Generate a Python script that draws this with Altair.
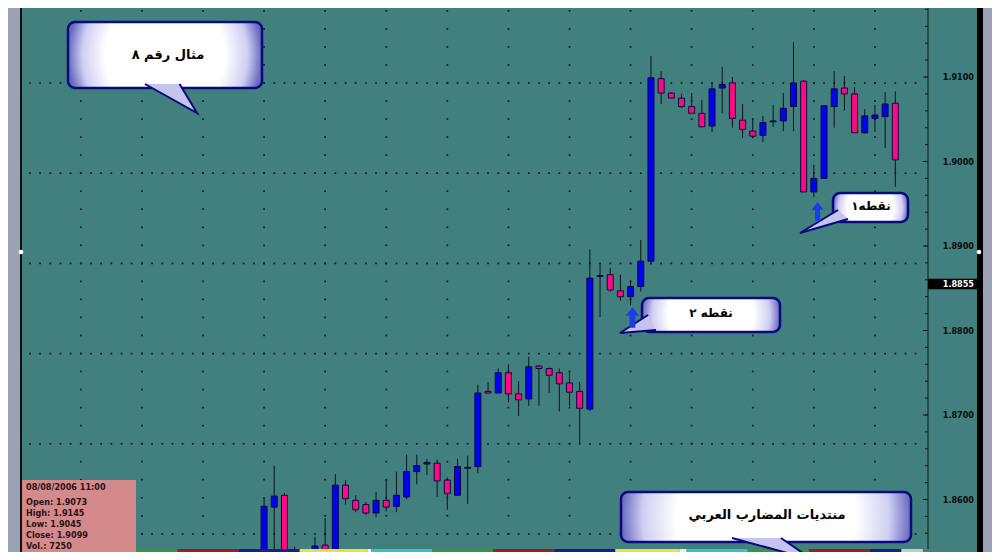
import altair as alt
import pandas as pd
import numpy as np

# ---------------- data ----------------
candle_index = list(range(63))
open_ = [1.8530, 1.8591, 1.8605, 1.8535, 1.8528, 1.8530, 1.8546, 1.8532, 1.8617, 1.8599,
         1.8594, 1.8584, 1.8599, 1.8592, 1.8603, 1.8633, 1.8642, 1.8643, 1.8623, 1.8605,
         1.8637, 1.8639, 1.8728, 1.8726, 1.8750, 1.8725, 1.8719, 1.8758, 1.8755, 1.8750,
         1.8738, 1.8728, 1.8707, 1.8864, 1.8866, 1.8847, 1.8840, 1.8852, 1.8882, 1.9098,
         1.9081, 1.9075, 1.9065, 1.9057, 1.9042, 1.9087, 1.9093, 1.9049, 1.9036, 1.9031,
         1.9047, 1.9048, 1.9065, 1.9095, 1.8964, 1.8980, 1.9065, 1.9087, 1.9080, 1.9034,
         1.9051, 1.9053, 1.9069]
close = [1.8592, 1.8604, 1.8535, 1.8530, 1.8532, 1.8545, 1.8535, 1.8617, 1.8601, 1.8588,
         1.8584, 1.8599, 1.8591, 1.8605, 1.8633, 1.8640, 1.8644, 1.8622, 1.8607, 1.8639,
         1.8638, 1.8726, 1.8726, 1.8750, 1.8725, 1.8718, 1.8757, 1.8755, 1.8747, 1.8737,
         1.8727, 1.8708, 1.8862, 1.8865, 1.8848, 1.8840, 1.8852, 1.8882, 1.9099, 1.9081,
         1.9075, 1.9065, 1.9057, 1.9041, 1.9086, 1.9091, 1.9051, 1.9038, 1.9030, 1.9046,
         1.9048, 1.9063, 1.9093, 1.8964, 1.8980, 1.9066, 1.9086, 1.9080, 1.9034, 1.9054,
         1.9055, 1.9068, 1.9002]
high = [1.8601, 1.8640, 1.8608, 1.8544, 1.8538, 1.8556, 1.8578, 1.8630, 1.8623, 1.8605,
        1.8597, 1.8609, 1.8623, 1.8633, 1.8653, 1.8653, 1.8648, 1.8647, 1.8626, 1.8648,
        1.8652, 1.8736, 1.8739, 1.8755, 1.8760, 1.8740, 1.8769, 1.8759, 1.8756, 1.8755,
        1.8751, 1.8739, 1.8896, 1.8879, 1.8874, 1.8866, 1.8859, 1.8907, 1.9125, 1.9107,
        1.9082, 1.9080, 1.9081, 1.9073, 1.9094, 1.9112, 1.9100, 1.9068, 1.9051, 1.9054,
        1.9067, 1.9081, 1.9141, 1.9096, 1.8996, 1.9066, 1.9107, 1.9101, 1.9088, 1.9062,
        1.9067, 1.9082, 1.9083]
low = [1.8520, 1.8525, 1.8528, 1.8520, 1.8520, 1.8525, 1.8528, 1.8528, 1.8594, 1.8585,
       1.8582, 1.8579, 1.8586, 1.8585, 1.8600, 1.8618, 1.8629, 1.8603, 1.8588, 1.8605,
       1.8595, 1.8631, 1.8726, 1.8726, 1.8715, 1.8699, 1.8711, 1.8711, 1.8726, 1.8704,
       1.8711, 1.8667, 1.8705, 1.8816, 1.8846, 1.8835, 1.8830, 1.8846, 1.8878, 1.9068,
       1.9075, 1.9063, 1.9056, 1.9041, 1.9035, 1.9057, 1.9040, 1.9028, 1.9028, 1.9023,
       1.9041, 1.9036, 1.9036, 1.8964, 1.8958, 1.8980, 1.9040, 1.9060, 1.9034, 1.9033,
       1.9035, 1.9016, 1.8970]

y_ticks = [1.86, 1.87, 1.88, 1.89, 1.90, 1.91]
y_tick_labels = ["1.8600", "1.8700", "1.8800", "1.8900", "1.9000", "1.9100"]
current_price = 1.8855
current_label = "1.8855"

grid_rows = [1.90929, 1.89862, 1.88794, 1.87727, 1.86659, 1.85592]
grid_cols = [-18, -12, -6, 0, 6, 12, 18, 24, 30, 36, 42, 48, 54, 60]

info_lines = ["08/08/2006 11:00", "Open: 1.9073", "High: 1.9145",
              "Low: 1.9045", "Close: 1.9099", "Vol.: 7250"]

callout_texts = ["مثال رقم ٨", "نقطه ٢", "نقطه١", "منتديات المضارب العربي"]

session_start = [-21.8, -20.5, -14.5, -8.5, -2.5, 3.5, 10.2, 10.5, 16.5, 22.5, 28.5, 34.5, 40.8, 41.5, 47.5, 53.5, 59.5, 62.6]
session_end = [-20.5, -14.5, -8.5, -2.5, 3.5, 10.2, 10.5, 16.5, 22.5, 28.5, 34.5, 40.8, 41.5, 47.5, 53.5, 59.5, 62.6, 64.7]
session_color = ["#f0f0f0", "#3cc0c8", "#2e9a36", "#9a1e1e", "#1c1c8c", "#e8e040", "#f0f0f0",
                 "#3cc0c8", "#2e9a36", "#9a1e1e", "#1c1c8c", "#e8e040", "#f0f0f0",
                 "#3cc0c8", "#2e9a36", "#9a1e1e", "#1c1c8c", "#c8c8c8"]

# ---------------- tables ----------------
df = pd.DataFrame({"i": candle_index, "open": open_, "high": high, "low": low, "close": close})

row_step = (grid_rows[0] - grid_rows[1]) / 5.0
x_all = list(range(-23, 65))
grid_pts = [{"i": xi, "p": p} for p in grid_rows for xi in x_all]
col_levels = [grid_rows[0] + row_step * k for k in range(-30, 6)]
grid_pts += [{"i": c, "p": p} for c in grid_cols for p in col_levels]
grid_df = pd.DataFrame(grid_pts)

tick_df = pd.DataFrame({"p": y_ticks, "label": y_tick_labels})
minor_df = pd.DataFrame({"p": [round(1.856 + 0.002 * k, 4) for k in range(32)]})
cur_df = pd.DataFrame({"p": [current_price], "lo": [current_price - 0.00062],
                       "hi": [current_price + 0.00062], "label": [current_label]})
sess_df = pd.DataFrame({"s": session_start, "e": session_end, "c": session_color})
one = pd.DataFrame({"k": [0]})

xs = alt.Scale(domain=[-23.284, 64.72], nice=False, zero=False)
ys = alt.Scale(domain=[1.854142, 1.918166], nice=False, zero=False)

X = alt.X("i:Q", scale=xs, axis=None)

TEAL = "#41807f"
GREY = "#9ca2b6"
NAVY = "#0a0a7c"
FONT = "DejaVu Sans Condensed"

layers = []

# grid dots
layers.append(alt.Chart(grid_df).mark_square(size=3, color="#0c2222", opacity=1, clip=True)
              .encode(x=X, y=alt.Y("p:Q", scale=ys, axis=None)))

# session strip at the bottom
layers.append(alt.Chart(sess_df).mark_rect(clip=False).encode(
    x=alt.X("s:Q", scale=xs, axis=None), x2="e:Q",
    y=alt.value(541), y2=alt.value(544), fill=alt.Fill("c:N", scale=None)))

# wicks
layers.append(alt.Chart(df).mark_rule(color="#0b1515", strokeWidth=1, clip=True).encode(
    x=X, y=alt.Y("low:Q", scale=ys, axis=None), y2="high:Q"))

# bodies
layers.append(alt.Chart(df).mark_bar(size=6, stroke="#0a0a40", strokeWidth=1, clip=True).encode(
    x=X, y=alt.Y("open:Q", scale=ys, axis=None), y2="close:Q",
    fill=alt.condition("datum.close >= datum.open", alt.value("#0000f2"), alt.value("#ff0a84"))))

# axis line and ticks
layers.append(alt.Chart(one).mark_rule(color="#0d1a1a", strokeWidth=1).encode(
    x=alt.value(906), y=alt.value(0), y2=alt.value(541)))
layers.append(alt.Chart(minor_df).mark_rule(color="#0d1a1a", strokeWidth=1).encode(
    x=alt.value(903), x2=alt.value(906), y=alt.Y("p:Q", scale=ys, axis=None)))
layers.append(alt.Chart(tick_df).mark_rule(color="#0d1a1a", strokeWidth=1).encode(
    x=alt.value(901), x2=alt.value(906), y=alt.Y("p:Q", scale=ys, axis=None)))
layers.append(alt.Chart(tick_df).mark_text(align="right", baseline="middle", font=FONT,
                                           fontSize=9, fontWeight="bold", color="#0a0a0a").encode(
    x=alt.value(952), y=alt.Y("p:Q", scale=ys, axis=None), text="label:N"))

# current price box
layers.append(alt.Chart(cur_df).mark_rect(color="#000000").encode(
    x=alt.value(906), x2=alt.value(955), y=alt.Y("lo:Q", scale=ys, axis=None), y2="hi:Q"))
layers.append(alt.Chart(cur_df).mark_text(align="right", baseline="middle", font=FONT,
                                          fontSize=9, fontWeight="bold", color="#ffffff").encode(
    x=alt.value(952), y=alt.Y("p:Q", scale=ys, axis=None), text="label:N"))

# frame: left grey strip, right border
def rect(x1, x2, y1, y2, **kw):
    return alt.Chart(one).mark_rect(**kw).encode(
        x=alt.value(x1), x2=alt.value(x2), y=alt.value(y1), y2=alt.value(y2))

layers.append(rect(-14, -2, 0, 544, color=GREY))
layers.append(rect(-2, 0, 0, 544, color="#101010"))
layers.append(rect(955, 961, 0, 544, color="#000000"))
layers.append(rect(961, 970, 0, 544, color=GREY))
layers.append(alt.Chart(one).mark_circle(size=22, color="#ffffff", opacity=1).encode(
    x=alt.value(-1), y=alt.value(244)))
layers.append(alt.Chart(one).mark_circle(size=22, color="#ffffff", opacity=1).encode(
    x=alt.value(957), y=alt.value(244)))

# info box
layers.append(rect(0, 114, 472, 544, color="#d48a8a"))
info_y = [479, 494, 505, 516, 527, 538]
for txt, yy in zip(info_lines, info_y):
    layers.append(alt.Chart(one).mark_text(text=txt, align="left", baseline="middle", font=FONT,
                                           fontSize=9, fontWeight="bold", color="#2a1212").encode(
        x=alt.value(4), y=alt.value(yy)))

# callouts
grad = {"gradient": "radial",
        "stops": [{"offset": 0, "color": "#ffffff"}, {"offset": 0.62, "color": "#ffffff"},
                  {"offset": 0.85, "color": "#cfcff3"}, {"offset": 1, "color": "#6868bf"}]}

boxes = [(46, 240, 14, 80), (620, 758, 290, 324), (811, 886, 185, 214), (599, 889, 484, 534)]
tails = [("M-0.93,-0.5L0.93,0.536L0.307,-0.5", 149, 90, 3136),
         ("M0.636,-0.364L-0.636,0.455L1,0.318", 612, 315, 1936),
         ("M0.615,-0.385L-0.846,0.5L1,-0.038", 800, 212, 2704),
         ("M-0.952,-0.262L0.976,0.262L0.214,-0.262", 750, 541, 7056)]
text_pos = [(146, 47, 13), (689, 305, 12), (849, 198, 12), (745, 507, 13)]

for (x1, x2, y1, y2), (path, cx, cy, sz), (tx, ty, fs), txt in zip(boxes, tails, text_pos, callout_texts):
    layers.append(alt.Chart(one).mark_rect(fill=grad, stroke=NAVY, strokeWidth=2.5, cornerRadius=7).encode(
        x=alt.value(x1), x2=alt.value(x2), y=alt.value(y1), y2=alt.value(y2)))
    layers.append(alt.Chart(one).mark_point(shape=path, filled=True, fill="#c4c4ee", stroke=NAVY,
                                            strokeWidth=2, opacity=1, size=sz).encode(
        x=alt.value(cx), y=alt.value(cy)))
    layers.append(alt.Chart(one).mark_text(text=txt, align="center", baseline="middle",
                                           font="DejaVu Sans", fontSize=fs, fontWeight="bold",
                                           color="#000000").encode(
        x=alt.value(tx), y=alt.value(ty)))

# arrows
arrow = "M0,-1L0.66,-0.18L0.28,-0.18L0.28,1L-0.28,1L-0.28,-0.18L-0.66,-0.18Z"
for ax, ay, sz in [(610.5, 309.5, 420), (795.5, 203.5, 340)]:
    layers.append(alt.Chart(one).mark_point(shape=arrow, filled=True, fill="#1a3ee6",
                                            strokeWidth=0, opacity=1, size=sz).encode(
        x=alt.value(ax), y=alt.value(ay)))

chart = alt.layer(*layers).properties(
    width=906, height=541,
    autosize="none",
    padding={"left": 14, "top": 0, "right": 64, "bottom": 3},
    background=TEAL,
).configure_view(stroke=None)

chart.save("out.html", embed_options={"renderer": "svg", "actions": False})
